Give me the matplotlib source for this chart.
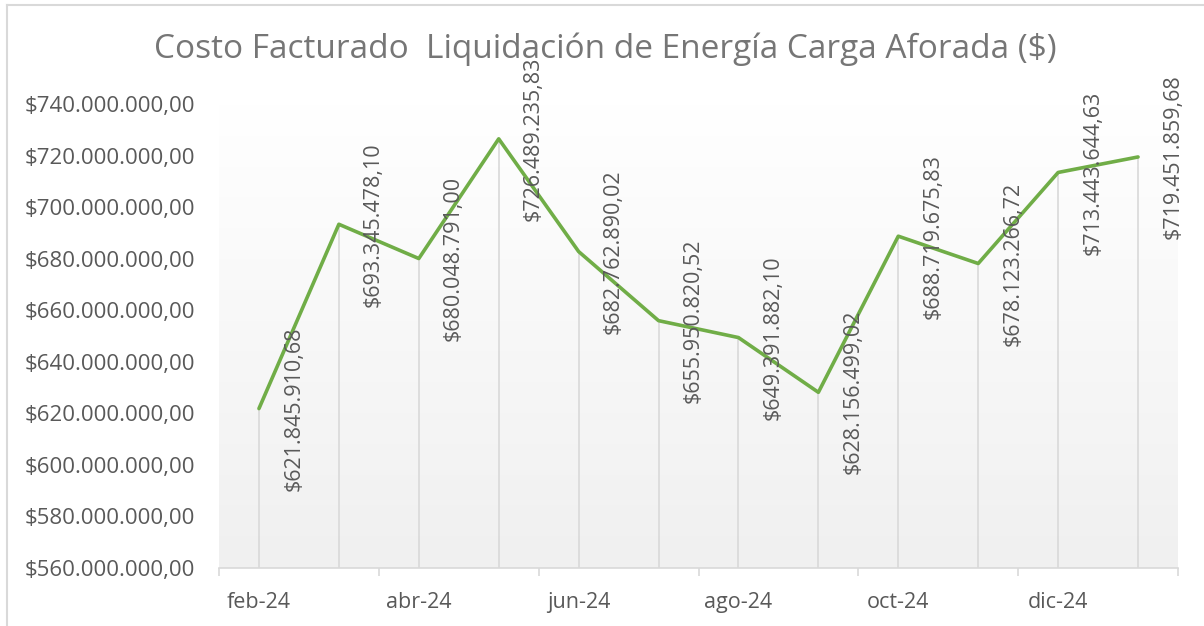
import matplotlib
matplotlib.use("Agg")
import matplotlib.pyplot as plt
import numpy as np
from matplotlib.lines import Line2D
from matplotlib.colors import LinearSegmentedColormap

months = ["feb-24", "mar-24", "abr-24", "may-24", "jun-24", "jul-24",
          "ago-24", "sep-24", "oct-24", "nov-24", "dic-24", "ene-25"]
values = [621845910.68, 693345478.10, 680048791.00, 726489235.83,
          682762890.02, 655950820.52, 649391882.10, 628156499.02,
          688719675.83, 678123266.72, 713443644.63, 719451859.68]
y_ticks = [560e6, 580e6, 600e6, 620e6, 640e6, 660e6, 680e6, 700e6, 720e6, 740e6]
title = "Costo Facturado  Liquidación de Energía Carga Aforada ($)"

plt.rcParams['font.family'] = ['Open Sans', 'DejaVu Sans']

def money(v, dec=2):
    s = f"{v:,.{dec}f}"
    s = s.replace(",", "X").replace(".", ",").replace("X", ".")
    return "$" + s

W, H = 1204, 626
fig = plt.figure(figsize=(W / 100, H / 100), dpi=100)
ax = fig.add_axes([219 / W, (H - 568) / H, (1178 - 219) / W, (568 - 104) / H])

x = np.arange(len(values))
n = len(values)

# gradient background (white top -> light grey bottom)
grad = np.linspace(0, 1, 256).reshape(-1, 1)
cmap = LinearSegmentedColormap.from_list("g", ["#ffffff", "#f0f0f0"])
ax.imshow(grad, aspect='auto', cmap=cmap, extent=[-0.5, n - 0.5, 560e6, 740e6],
          origin='upper', zorder=0)
ax.set_xlim(-0.5, n - 0.5)
ax.set_ylim(560e6, 740e6)

# drop lines
ax.vlines(x, 560e6, values, color="#d9d9d9", lw=1.2, zorder=1)
ax.plot(x, values, color="#70AD47", lw=2.6, zorder=3, solid_capstyle='round', solid_joinstyle='round')

for xi, v in zip(x, values):
    ax.annotate(money(v), (xi, v), xytext=(25, 0), textcoords='offset points',
                rotation=90, ha='center', va='center', fontsize=15.5, color="#595959", zorder=4)

ax.set_yticks(y_ticks)
ax.set_yticklabels([money(v) for v in y_ticks])
ax.tick_params(axis='y', length=0, labelsize=16, labelcolor="#595959", pad=17)

ax.set_xticks(np.arange(-0.5, n, 2))
ax.set_xticklabels([])
ax.tick_params(axis='x', which='major', length=6, color="#d9d9d9", width=1.2)
ax.set_xticks(x[::2], minor=True)
ax.set_xticklabels(months[::2], minor=True)
ax.tick_params(axis='x', which='minor', length=0, labelsize=15.5, labelcolor="#595959", pad=17)

for s in ['top', 'right', 'left']:
    ax.spines[s].set_visible(False)
ax.spines['bottom'].set_color("#d9d9d9")
ax.spines['bottom'].set_linewidth(1.2)

fig.text(605 / W, 1 - 49 / H, title, ha='center', va='center', fontsize=24, color="#767676")

# chart border (left and top)
fig.add_artist(Line2D([7 / W, 7 / W], [0, 1 - 5 / H], transform=fig.transFigure, color="#d9d9d9", lw=1.5))
fig.add_artist(Line2D([7 / W, 1], [1 - 5 / H, 1 - 5 / H], transform=fig.transFigure, color="#d9d9d9", lw=1.5))

fig.savefig("out.png", dpi=100)
